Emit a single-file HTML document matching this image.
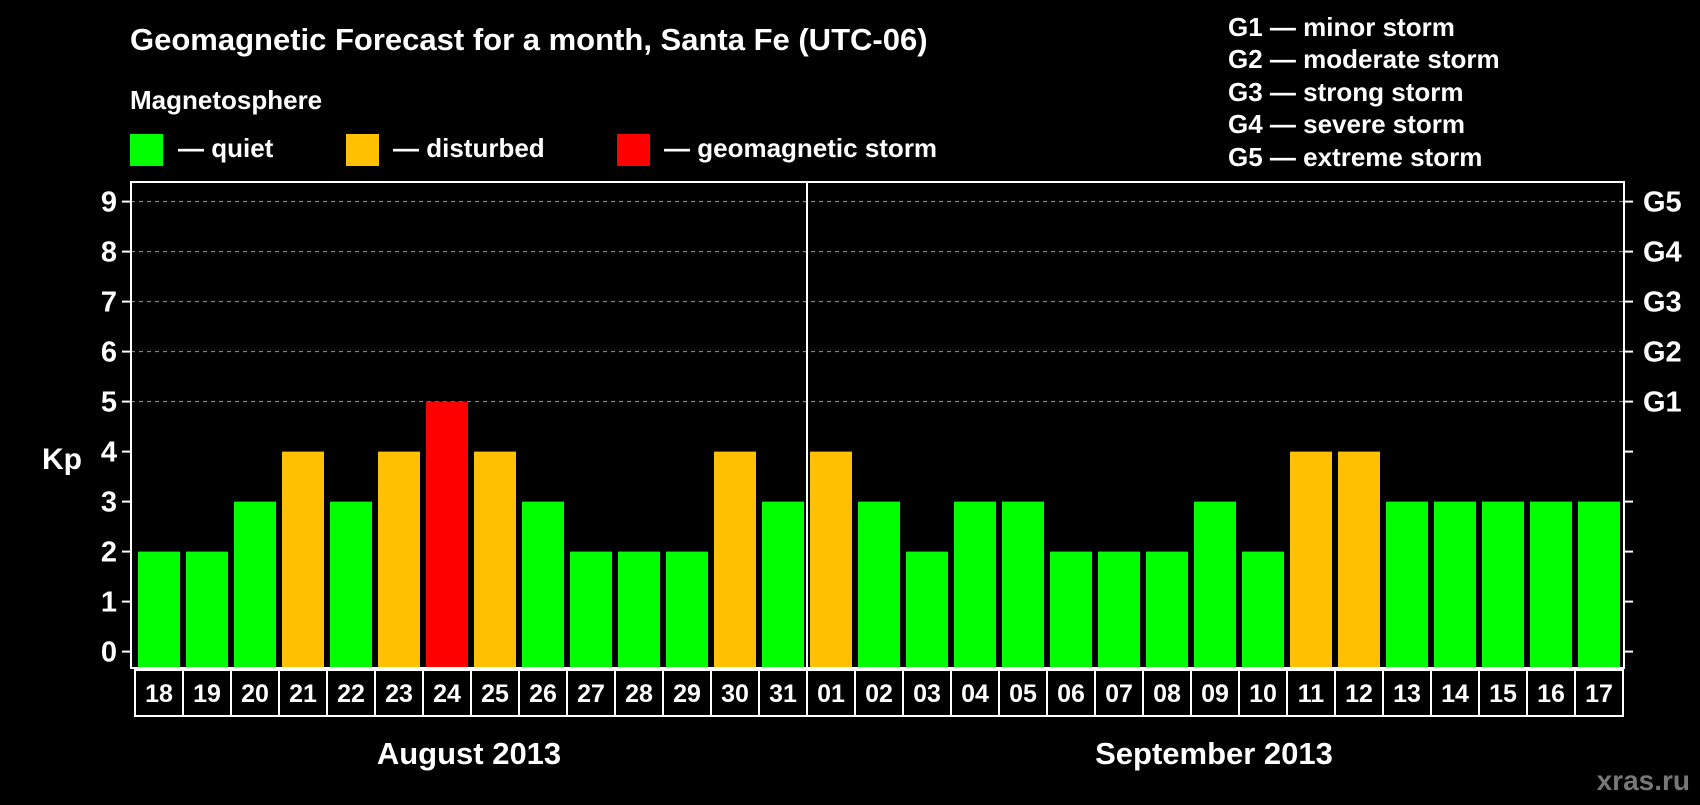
<!DOCTYPE html>
<html><head><meta charset="utf-8"><style>
body{margin:0;background:#000;width:1700px;height:800px;overflow:hidden}
svg text{font-family:"Liberation Sans",Arial,sans-serif;font-weight:bold;fill:#fff}
</style></head><body>
<svg id="c" width="1700" height="800">
<text x="130" y="50" font-size="31">Geomagnetic Forecast for a month, Santa Fe (UTC-06)</text>
<text x="130" y="109" font-size="26">Magnetosphere</text>
<rect x="130" y="134" width="33" height="32" fill="#00ff00"/>
<text x="178" y="157" font-size="26">— quiet</text>
<rect x="346" y="134" width="33" height="32" fill="#ffc000"/>
<text x="393" y="157" font-size="26">— disturbed</text>
<rect x="617" y="134" width="33" height="32" fill="#ff0000"/>
<text x="664" y="157" font-size="26">— geomagnetic storm</text>
<g font-size="26">
<text x="1228" y="36">G1 — minor storm</text>
<text x="1228" y="68">G2 — moderate storm</text>
<text x="1228" y="101">G3 — strong storm</text>
<text x="1228" y="133">G4 — severe storm</text>
<text x="1228" y="166">G5 — extreme storm</text>
</g>
<text x="42" y="469" font-size="30">Kp</text>
<text x="469" y="764" font-size="31" text-anchor="middle">August 2013</text>
<text x="1214" y="764" font-size="31" text-anchor="middle">September 2013</text>
<text x="1690" y="790" font-size="28" text-anchor="end" style="fill:#777">xras.ru</text>
<g id="plot"></g>
</svg>
<script>
const days=["18","19","20","21","22","23","24","25","26","27","28","29","30","31","01","02","03","04","05","06","07","08","09","10","11","12","13","14","15","16","17"];
const kpValues=[2,2,3,4,3,4,5,4,3,2,2,2,4,3,4,3,2,3,3,2,2,2,3,2,4,4,3,3,3,3,3];
const yTicks=[0,1,2,3,4,5,6,7,8,9];
const gLabels=["G1","G2","G3","G4","G5"];
const ns="http://www.w3.org/2000/svg";
const g=document.getElementById('plot');
const L=131,R=1624,T=182,B=668,x0=138,pitch=48,bw=42;
const y=v=>651.6-v*50;
const xb=i=>x0+i*pitch;
function mk(t,a){const e=document.createElementNS(ns,t);for(const k in a)e.setAttribute(k,a[k]);g.appendChild(e);return e;}
const col=v=>v>=5?"#ff0000":v>=4?"#ffc000":"#00ff00";
yTicks.forEach(v=>{
 if(v>=5){const l=mk('line',{x1:L,x2:R,y1:y(v),y2:y(v),stroke:'#999','stroke-dasharray':'4 4','stroke-width':1});
 
 }
 const t1=mk('line',{x1:L-9,x2:L,y1:y(v),y2:y(v),stroke:'#fff','stroke-width':2});
 
 
 const t2=mk('line',{x1:R,x2:R+9,y1:y(v),y2:y(v),stroke:'#fff','stroke-width':2});
 
 
 const tx=mk('text',{x:L-14,y:y(v)+10,'font-size':29,'text-anchor':'end'});tx.textContent=v;
 
 
});
gLabels.forEach((s,i)=>{const tx=mk('text',{x:1643,y:y(5+i)+10,'font-size':29});tx.textContent=s;
 
 });
kpValues.forEach((v,i)=>{
 const r=mk('rect',{x:xb(i),y:y(v),width:bw,height:B-y(v),fill:col(v)});
 
 
 const b=mk('rect',{x:xb(i)-3,y:670,width:pitch,height:46,fill:'none',stroke:'#fff','stroke-width':2});
 
 
 const t=mk('text',{x:xb(i)+bw/2,y:702,'font-size':25,'text-anchor':'middle'});t.textContent=days[i];
 
 
});
const fr=mk('rect',{x:L,y:T,width:R-L,height:B-T,fill:'none',stroke:'#fff','stroke-width':2});


const di=days.indexOf("01");
const dv=mk('line',{x1:xb(di)-3,x2:xb(di)-3,y1:T,y2:B,stroke:'#fff','stroke-width':2});


</script>
</body></html>
